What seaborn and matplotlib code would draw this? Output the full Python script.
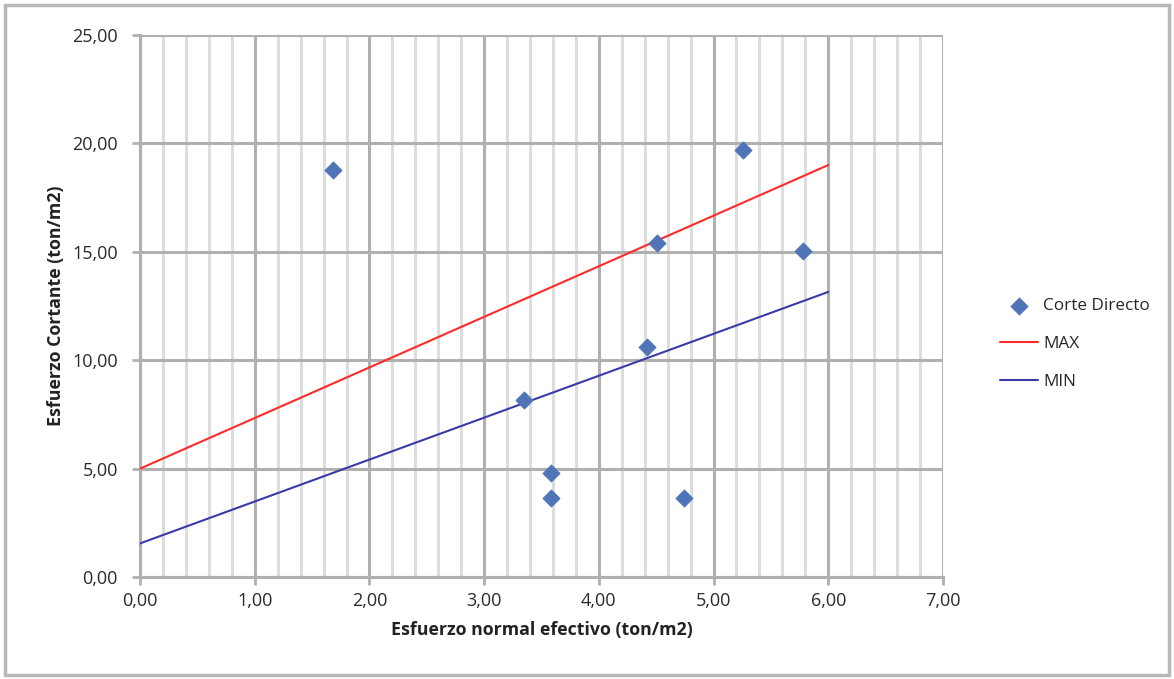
import matplotlib.pyplot as plt
import matplotlib.ticker as mticker
from matplotlib.patches import Rectangle
import pandas as pd
import seaborn as sns

# Data
normal = [1.68, 5.26, 4.51, 5.78, 4.42, 3.35, 3.58, 3.58, 4.74]
cortante = [18.75, 19.7, 15.4, 15.05, 10.6, 8.15, 4.8, 3.65, 3.65]
line_x = [0.0, 6.0]
max_y = [5.0, 19.0]
min_y = [1.55, 13.15]

df_pts = pd.DataFrame({'x': normal, 'y': cortante})
df_lines = pd.DataFrame({
    'x': line_x + line_x,
    'y': max_y + min_y,
    'serie': ['MAX'] * 2 + ['MIN'] * 2,
})

sns.set_style('white')
plt.rcParams['font.family'] = ['Open Sans', 'DejaVu Sans']

fig = plt.figure(figsize=(11.74, 6.79), dpi=100)
ax = fig.add_axes([0.1193, 0.1502, 0.8032 - 0.1193, 0.9485 - 0.1502])

sns.scatterplot(data=df_pts, x='x', y='y', ax=ax, marker='D', s=75,
                color='#4f74b8', edgecolor='#4f74b8', label='Corte Directo', zorder=5)
sns.lineplot(data=df_lines, x='x', y='y', hue='serie', ax=ax,
             palette={'MAX': '#ff2a2a', 'MIN': '#3a3aa8'}, linewidth=1.5, zorder=4)

ax.set_xlim(0, 7)
ax.set_ylim(0, 25)
ax.xaxis.set_major_locator(mticker.MultipleLocator(1))
ax.xaxis.set_minor_locator(mticker.MultipleLocator(0.2))
ax.yaxis.set_major_locator(mticker.MultipleLocator(5))
fmt = mticker.FuncFormatter(lambda v, p: f'{v:.2f}'.replace('.', ','))
ax.xaxis.set_major_formatter(fmt)
ax.yaxis.set_major_formatter(fmt)

ax.grid(which='major', axis='both', color='#b0b0b0', linewidth=2.2)
ax.grid(which='minor', axis='x', color='#dddddd', linewidth=2.2)
ax.set_axisbelow(True)
for side in ['left', 'bottom']:
    ax.spines[side].set_color('#b0b0b0')
    ax.spines[side].set_linewidth(2.2)
for side in ['top', 'right']:
    ax.spines[side].set_visible(False)
ax.tick_params(which='major', direction='out', length=6, width=2, color='#b0b0b0',
               labelsize=13, labelcolor='#2a2a2a', bottom=True, left=True)
ax.tick_params(axis='y', pad=10)
ax.tick_params(axis='x', pad=5)
ax.tick_params(which='minor', length=0)

ax.set_xlabel('Esfuerzo normal efectivo (ton/m2)', fontsize=12.8, fontweight='bold',
              color='#222222', labelpad=8)
ax.set_ylabel('Esfuerzo Cortante (ton/m2)', fontsize=12.8, fontweight='bold',
              color='#222222', labelpad=5)

handles, labels = ax.get_legend_handles_labels()
ax.legend(handles, labels, loc='center left', bbox_to_anchor=(0.839, 0.493),
          bbox_transform=fig.transFigure, frameon=False, fontsize=12.3,
          handlelength=2.2, labelspacing=1.3, handletextpad=0.3)

fig.patches.append(Rectangle((0.004, 0.006), 0.992, 0.987, transform=fig.transFigure,
                             fill=False, edgecolor='#b8b8b8', linewidth=2.5))

fig.savefig('out.png', dpi=100)
